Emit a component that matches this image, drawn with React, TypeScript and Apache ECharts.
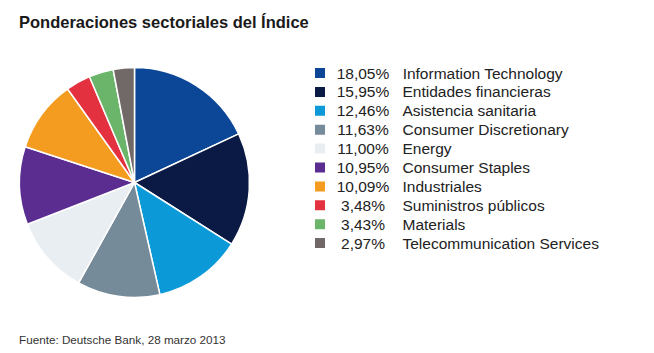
import React, { useEffect, useRef } from "react";
import * as echarts from "echarts";

const sectors = [
  "Information Technology",
  "Entidades financieras",
  "Asistencia sanitaria",
  "Consumer Discretionary",
  "Energy",
  "Consumer Staples",
  "Industriales",
  "Suministros públicos",
  "Materials",
  "Telecommunication Services",
];
const weights = [18.05, 15.95, 12.46, 11.63, 11.0, 10.95, 10.09, 3.48, 3.43, 2.97];
const colors = [
  "#0b4697",
  "#0a1a45",
  "#0b9ad7",
  "#768b99",
  "#e8eef2",
  "#5b2d91",
  "#f49c20",
  "#e4313f",
  "#6bb56a",
  "#716868",
];
const titleText = "Ponderaciones sectoriales del Índice";
const sourceText = "Fuente: Deutsche Bank, 28 marzo 2013";

const fmt = (v: number) => v.toFixed(2).replace(".", ",") + "%";

export default function App() {
  const ref = useRef<HTMLDivElement>(null);
  useEffect(() => {
    if (!ref.current) return;
    const chart = echarts.init(ref.current, undefined, { renderer: "svg" });
    const font = "'Liberation Sans', Arial, Helvetica, sans-serif";
    chart.setOption({
      animation: false,
      backgroundColor: "#ffffff",
      textStyle: { fontFamily: font },
      title: [
        {
          text: titleText,
          left: 19,
          top: 13,
          padding: 0,
          textStyle: { fontSize: 16.5, fontWeight: "bold", color: "#1a1a1a", fontFamily: font },
        },
        {
          text: sourceText,
          left: 19,
          top: 333,
          padding: 0,
          textStyle: { fontSize: 11.7, fontWeight: "normal", color: "#333333", fontFamily: font },
        },
      ],
      legend: {
        orient: "vertical",
        left: 313,
        top: 65,
        padding: 0,
        icon: "rect",
        itemWidth: 12,
        itemHeight: 12,
        itemGap: 2.9,
        selectedMode: false,
        data: sectors,
        formatter: (name: string) => {
          const i = sectors.indexOf(name);
          return `{p|${fmt(weights[i])}}{n|${name}}`;
        },
        textStyle: {
          fontFamily: font,
          rich: {
            p: { width: 64, align: "right", fontSize: 15.5, color: "#222222", fontFamily: font },
            n: { fontSize: 15.5, color: "#222222", padding: [0, 0, 0, 7.5], fontFamily: font },
          },
        },
      },
      series: [
        {
          type: "pie",
          center: [134.5, 182.5],
          radius: 115,
          startAngle: 90,
          clockwise: true,
          label: { show: false },
          labelLine: { show: false },
          emphasis: { disabled: true },
          itemStyle: { borderColor: "#ffffff", borderWidth: 1.5 },
          data: sectors.map((s, i) => ({
            name: s,
            value: weights[i],
            itemStyle: { color: colors[i] },
          })),
        },
      ],
    });
    return () => chart.dispose();
  }, []);
  return (
    <div
      ref={ref}
      style={{ position: "absolute", left: 0, top: 0, width: 654, height: 353 }}
    />
  );
}
